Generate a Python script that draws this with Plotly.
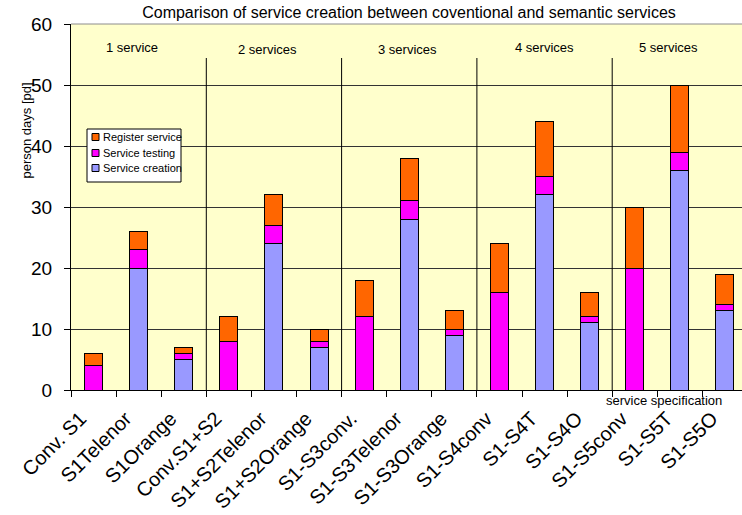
import plotly.graph_objects as go

# Effort per service specification, in person days
categories = [
    "Conv. S1", "S1Telenor", "S1Orange",
    "Conv.S1+S2", "S1+S2Telenor", "S1+S2Orange",
    "S1-S3conv.", "S1-S3Telenor", "S1-S3Orange",
    "S1-S4conv", "S1-S4T", "S1-S4O",
    "S1-S5conv", "S1-S5T", "S1-S5O",
]
service_creation = [0, 20, 5, 0, 24, 7, 0, 28, 9, 0, 32, 11, 0, 36, 13]
service_testing = [4, 3, 1, 8, 3, 1, 12, 3, 1, 16, 3, 1, 20, 3, 1]
register_service = [2, 3, 1, 4, 5, 2, 6, 7, 3, 8, 9, 4, 10, 11, 5]

group_labels = ["1 service", "2 services", "3 services", "4 services", "5 services"]
y_ticks = [0, 10, 20, 30, 40, 50, 60]

FONT = "Liberation Sans, Arial, sans-serif"
COLORS = {"Service creation": "#9999FF", "Service testing": "#FF00FF",
          "Register service": "#FF6600"}

# plot-area geometry (pixels) and helpers to place decorations in paper units
FIG_W, FIG_H = 742, 515
L, T, R, B = 71, 24, 742, 390
PW, PH = R - L, B - T


def px(x):
    return (x - L) / PW


def py(y):
    return (B - y) / PH


edge = dict(color="black", width=1)
series = [("Service creation", service_creation),
          ("Service testing", service_testing),
          ("Register service", register_service)]

fig = go.Figure()
for name, vals in series:
    fig.add_trace(go.Bar(name=name, x=categories, y=vals,
                         marker=dict(color=COLORS[name], line=edge)))

# group separators and captions
n_groups = len(group_labels)
per_group = len(categories) // n_groups
for g in range(1, n_groups):
    fig.add_shape(type="line", xref="x", yref="paper",
                  x0=g * per_group - 0.5, x1=g * per_group - 0.5, y0=0, y1=py(58),
                  line=dict(color="black", width=1))
group_label_x = [0.85, 3.85, 6.95, 10.0, 12.75]
group_label_y = [38, 39.5, 39.5, 38, 38]
for label, gx, gy in zip(group_labels, group_label_x, group_label_y):
    fig.add_annotation(x=gx, y=py(gy), xref="x", yref="paper",
                       text=label, showarrow=False,
                       font=dict(family=FONT, size=13, color="black"))

# grey frame line along the top of the plot area
fig.add_shape(type="line", xref="paper", yref="paper", x0=0, x1=1, y0=1, y1=1,
              line=dict(color="#8c8c8c", width=1))

# legend box
fig.add_shape(type="rect", xref="paper", yref="paper",
              x0=px(87), x1=px(181), y0=py(182), y1=py(129),
              fillcolor="white", line=dict(color="black", width=1))
for (name, _), row_y in zip(reversed(series), [137, 153, 168]):
    fig.add_shape(type="rect", xref="paper", yref="paper",
                  x0=px(92), x1=px(99), y0=py(row_y + 3.5), y1=py(row_y - 3.5),
                  fillcolor=COLORS[name], line=dict(color="black", width=1))
    fig.add_annotation(x=px(101), y=py(row_y), xref="paper", yref="paper",
                       xanchor="left", yanchor="middle", text=name, showarrow=False,
                       font=dict(family=FONT, size=11, color="black"))

# axis captions
fig.add_annotation(x=px(17), y=py(81), xref="paper", yref="paper",
                   text="person days [pd]", textangle=-90, showarrow=False,
                   font=dict(family=FONT, size=13, color="black"))
fig.add_annotation(x=px(724), y=py(400), xref="paper", yref="paper",
                   xanchor="right", yanchor="middle",
                   text="service specification", showarrow=False,
                   font=dict(family=FONT, size=13, color="black"))

fig.update_layout(
    barmode="stack",
    bargap=0.6,
    width=FIG_W, height=FIG_H,
    margin=dict(l=L, r=FIG_W - R, t=T, b=FIG_H - B),
    paper_bgcolor="white",
    plot_bgcolor="#FFFFCC",
    font=dict(family=FONT, color="black"),
    title=dict(text="Comparison of service creation between coventional and semantic services",
               x=409 / FIG_W, xanchor="center", y=1 - 12 / FIG_H, yanchor="middle",
               font=dict(family=FONT, size=16, color="black")),
    showlegend=False,
    xaxis=dict(type="category", range=[-0.5, -0.5 + PW / 45.1], automargin=False,
               tickangle=-45, tickson="boundaries",
               ticks="outside", ticklen=6, tickcolor="black",
               ticklabelstandoff=8, ticklabelshift=-13,
               showline=True, linecolor="black", linewidth=1,
               showgrid=False,
               tickfont=dict(family=FONT, size=20, color="black")),
    yaxis=dict(range=[0, 60], tickvals=y_ticks, ticks="outside", ticklen=6,
               tickcolor="black", ticklabelstandoff=8, automargin=False,
               showline=True, linecolor="black", linewidth=1,
               showgrid=True, gridcolor="#333333", gridwidth=1, zeroline=False,
               tickfont=dict(family=FONT, size=19, color="black")),
)

fig.write_html("out.html")
